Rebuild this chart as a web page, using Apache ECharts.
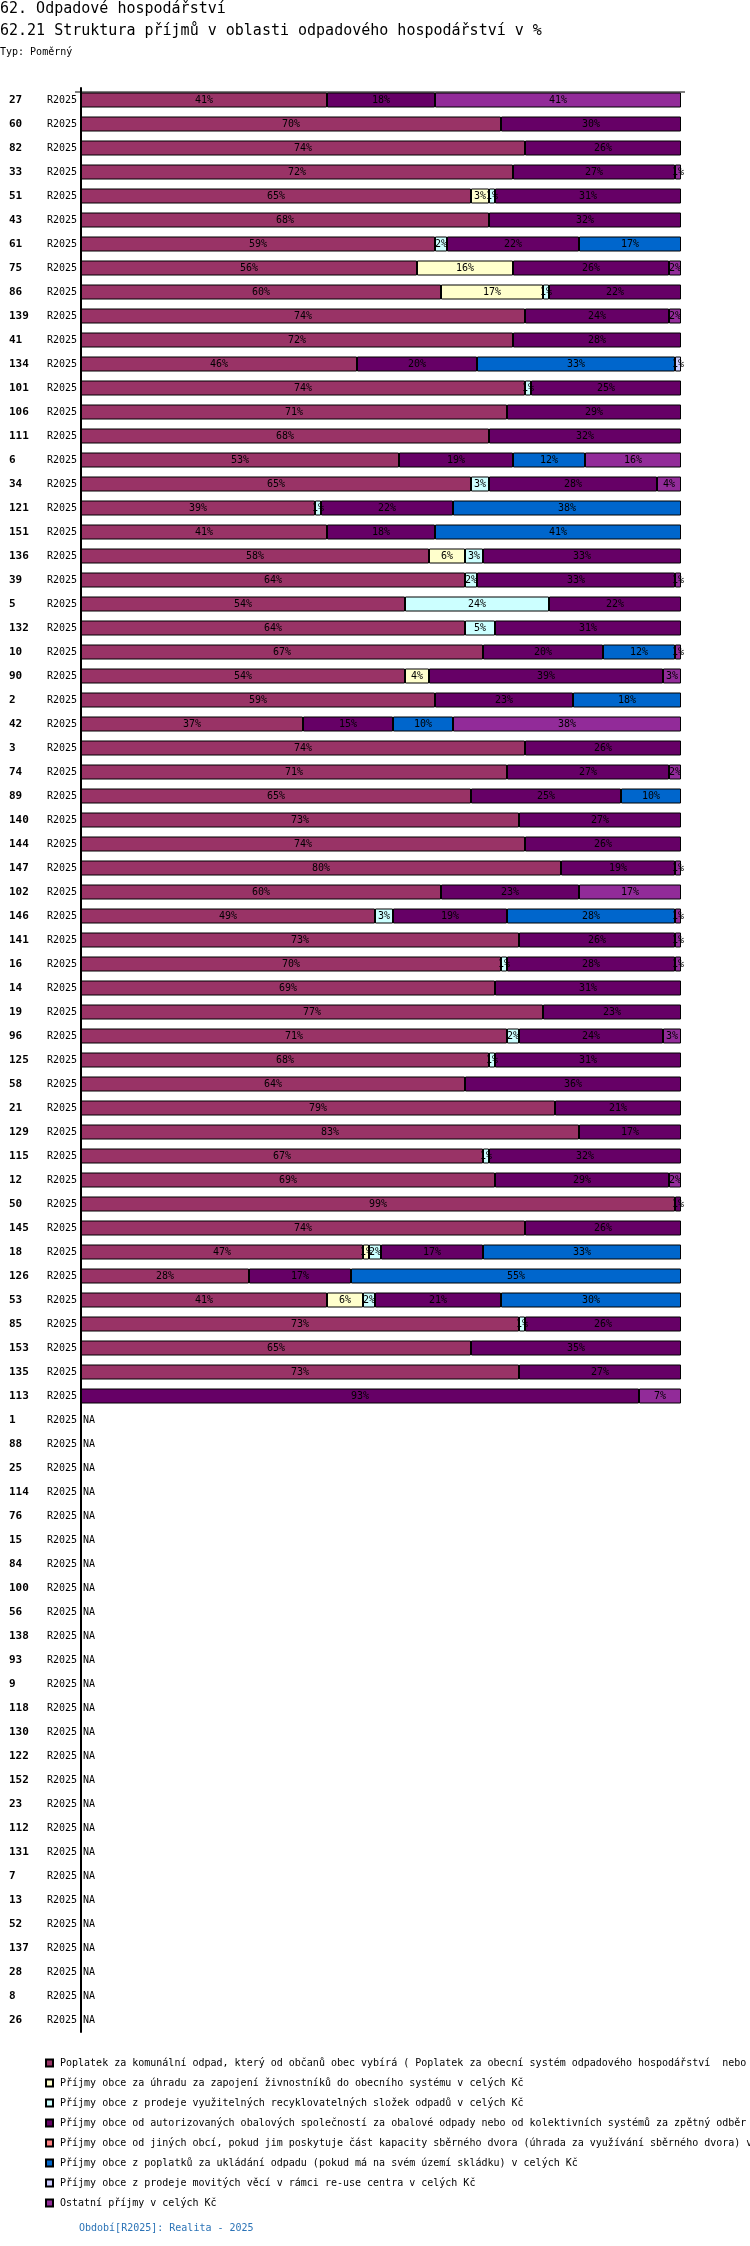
<!DOCTYPE html>
<html>
<head>
<meta charset="utf-8">
<script src="https://cdn.jsdelivr.net/npm/echarts@6/dist/echarts.min.js"></script>
<style>
html,body{margin:0;padding:0;background:#fff;}
#c{width:750px;height:2246px;}
</style>
</head>
<body>
<div id="c"></div>
<script>
// ---- data ----
const period = 'R2025';
const dataCategories = ['27','60','82','33','51','43','61','75','86','139','41','134','101','106','111','6','34','121','151','136','39','5','132','10','90','2','42','3','74','89','140','144','147','102','146','141','16','14','19','96','125','58','21','129','115','12','50','145','18','126','53','85','153','135','113'];
const naCategories = ['1','88','25','114','76','15','84','100','56','138','93','9','118','130','122','152','23','112','131','7','13','52','137','28','8','26'];

const seriesNames = [
  'Poplatek za komunální odpad, který od občanů obec vybírá ( Poplatek za obecní systém odpadového hospodářství  nebo Poplatek za odkládání komunálního odpadu z nemovité věci) v celých Kč',
  'Příjmy obce za úhradu za zapojení živnostníků do obecního systému v celých Kč',
  'Příjmy obce z prodeje využitelných recyklovatelných složek odpadů v celých Kč',
  'Příjmy obce od autorizovaných obalových společností za obalové odpady nebo od kolektivních systémů za zpětný odběr v celých Kč',
  'Příjmy obce od jiných obcí, pokud jim poskytuje část kapacity sběrného dvora (úhrada za využívání sběrného dvora) v celých Kč',
  'Příjmy obce z poplatků za ukládání odpadu (pokud má na svém území skládku) v celých Kč',
  'Příjmy obce z prodeje movitých věcí v rámci re-use centra v celých Kč',
  'Ostatní příjmy v celých Kč'
];
const seriesColors = ['#993366','#FFFFCC','#CCFFFF','#660066','#FF8080','#0066CC','#CCCCFF','#922B99'];

const poplatek = [41,70,74,72,65,68,59,56,60,74,72,46,74,71,68,53,65,39,41,58,64,54,64,67,54,59,37,74,71,65,73,74,80,60,49,73,70,69,77,71,68,64,79,83,67,69,99,74,47,28,41,73,65,73,null];
const zivnostnici = [null,null,null,null,3,null,null,16,17,null,null,null,null,null,null,null,null,null,null,6,null,null,null,null,4,null,null,null,null,null,null,null,null,null,null,null,null,null,null,null,null,null,null,null,null,null,null,null,1,null,6,null,null,null,null];
const recyklace = [null,null,null,null,1,null,2,null,1,null,null,null,1,null,null,null,3,1,null,3,2,24,5,null,null,null,null,null,null,null,null,null,null,null,3,null,1,null,null,2,1,null,null,null,1,null,null,null,2,null,2,1,null,null,null];
const obalove = [18,30,26,27,31,32,22,26,22,24,28,20,25,29,32,19,28,22,18,33,33,22,31,20,39,23,15,26,27,25,27,26,19,23,19,26,28,31,23,24,31,36,21,17,32,29,1,26,17,17,21,26,35,27,93];
const jineObce = [null,null,null,null,null,null,null,null,null,null,null,null,null,null,null,null,null,null,null,null,null,null,null,null,null,null,null,null,null,null,null,null,null,null,null,null,null,null,null,null,null,null,null,null,null,null,null,null,null,null,null,null,null,null,null];
const skladka = [null,null,null,null,null,null,17,null,null,null,null,33,null,null,null,12,null,38,41,null,null,null,null,12,null,18,10,null,null,10,null,null,null,null,28,null,null,null,null,null,null,null,null,null,null,null,null,null,33,55,30,null,null,null,null];
const reuse = [null,null,null,null,null,null,null,null,null,null,null,1,null,null,null,null,null,null,null,null,null,null,null,null,null,null,null,null,null,null,null,null,null,null,null,null,null,null,null,null,null,null,null,null,null,null,null,null,null,null,null,null,null,null,null];
const ostatni = [41,null,null,1,null,null,null,2,null,2,null,null,null,null,null,16,4,null,null,null,1,null,null,1,3,null,38,null,2,null,null,null,1,17,1,1,1,null,null,3,null,null,null,null,null,2,null,null,null,null,null,null,null,null,7];
</script>
<script>
const allSeries = [poplatek, zivnostnici, recyklace, obalove, jineObce, skladka, reuse, ostatni];
const categories = dataCategories.concat(naCategories);
const pad = naCategories.map(() => null);
const MONO = '"DejaVu Sans Mono", "Liberation Mono", monospace';

const series = allSeries.map((arr, i) => ({
  name: seriesNames[i],
  type: 'bar',
  stack: 'total',
  barWidth: 15,
  data: arr.concat(pad),
  itemStyle: { color: seriesColors[i], borderColor: '#000', borderWidth: 1 },
  label: {
    show: true, position: 'inside', color: '#000',
    fontFamily: MONO, fontSize: 10,
    formatter: p => (p.value == null ? '' : p.value + '%')
  },
  emphasis: { disabled: true },
  silent: true
}));
series.push({
  name: 'NA', type: 'bar', stack: 'total', barWidth: 15,
  data: dataCategories.map(() => null).concat(naCategories.map(() => 0)),
  itemStyle: { color: 'transparent', borderWidth: 0 },
  label: { show: true, position: 'right', distance: 2, color: '#000', fontFamily: MONO, fontSize: 10, formatter: 'NA' },
  silent: true
});

const chart = echarts.init(document.getElementById('c'), null, { renderer: 'canvas' });
chart.setOption({
  animation: false,
  backgroundColor: '#fff',
  title: [
    { text: '62. Odpadové hospodářství', left: 0, top: 0, padding: 0,
      textStyle: { fontFamily: MONO, fontSize: 15, fontWeight: 'normal', color: '#000', lineHeight: 18 } },
    { text: '62.21 Struktura příjmů v oblasti odpadového hospodářství v %', left: 0, top: 22, padding: 0,
      textStyle: { fontFamily: MONO, fontSize: 15, fontWeight: 'normal', color: '#000', lineHeight: 18 } },
    { text: 'Typ: Poměrný', left: 0, top: 46, padding: 0,
      textStyle: { fontFamily: MONO, fontSize: 10, fontWeight: 'normal', color: '#000', lineHeight: 12 } },
    { text: 'Období[' + period + ']: Realita - 2025', left: 79, top: 2222, padding: 0,
      textStyle: { fontFamily: MONO, fontSize: 10, fontWeight: 'normal', color: '#2B73B6', lineHeight: 12 } }
  ],
  legend: {
    data: seriesNames,
    orient: 'vertical',
    left: 45, top: 2053, padding: 0, itemGap: 0,
    itemWidth: 7, itemHeight: 7,
    icon: 'rect',
    selectedMode: false,
    textStyle: { fontFamily: MONO, fontSize: 10, color: '#000', lineHeight: 20, padding: [0, 0, 0, 2] }
  },
  grid: { left: 81, top: 88, width: 600, height: 1944, containLabel: false },
  xAxis: { type: 'value', min: 0, max: 100, show: false },
  yAxis: {
    type: 'category', inverse: true, data: categories,
    axisLine: { show: true, lineStyle: { color: '#000', width: 2 } },
    axisTick: { show: false },
    splitLine: { show: false },
    axisLabel: {
      margin: 4, interval: 0,
      formatter: v => '{id|' + v + '}{r|' + period + '}',
      rich: {
        id: { width: 38, align: 'left', fontFamily: MONO, fontSize: 11, fontWeight: 'bold', color: '#000' },
        r: { fontFamily: MONO, fontSize: 10, color: '#000' }
      }
    }
  },
  graphic: [
    { type: 'line', shape: { x1: 75, y1: 92, x2: 685, y2: 92 }, style: { stroke: '#000', lineWidth: 1 }, z: 1 }
  ],
  series: series
});
</script>
</body>
</html>
